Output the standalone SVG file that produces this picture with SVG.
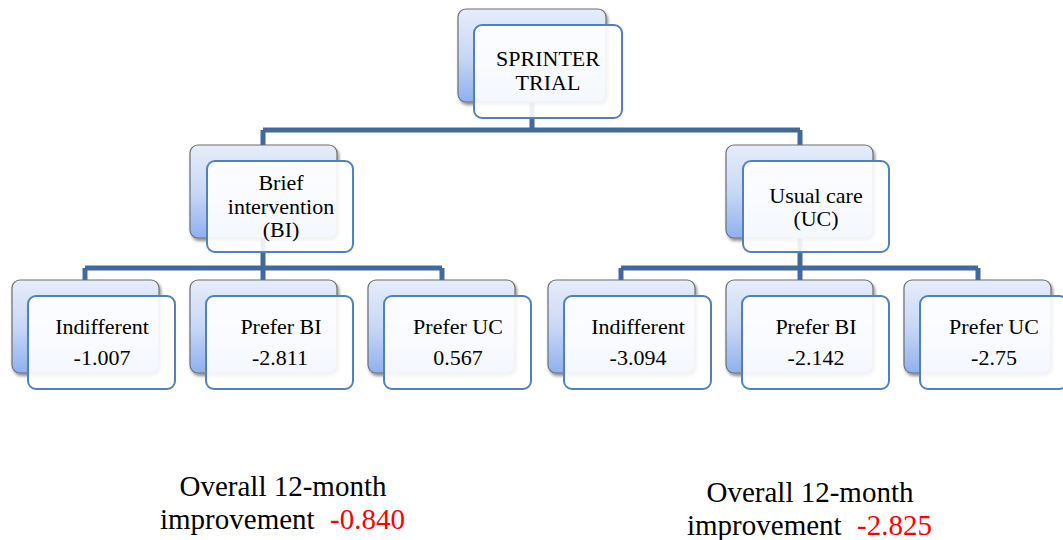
<svg xmlns="http://www.w3.org/2000/svg" width="1063" height="540" viewBox="0 0 1063 540">
<defs>
<linearGradient id="bg" x1="0" y1="0" x2="0" y2="1">
<stop offset="0" stop-color="#e6edfa"/>
<stop offset="0.5" stop-color="#c9d8f6"/>
<stop offset="1" stop-color="#8fb0ee"/>
</linearGradient>
<filter id="sh" x="-10%" y="-10%" width="130%" height="130%">
<feDropShadow dx="1.5" dy="2.5" stdDeviation="1.5" flood-color="#000" flood-opacity="0.45"/>
</filter>
</defs>
<style>
.back{fill:url(#bg);stroke:#6f6f6f;stroke-width:1.2;filter:url(#sh)}
.front{fill:#ffffff;fill-opacity:0.9;stroke:#4f81bd;stroke-width:2}
.t{font-family:'Liberation Serif','DejaVu Serif',serif;font-size:22px;fill:#000;text-anchor:middle}
.b{font-family:'Liberation Serif','DejaVu Serif',serif;font-size:29px;fill:#000}
.red{fill:#ff0000}
.c{stroke:#41699c;stroke-width:5;fill:none}
</style>
<rect width="1063" height="540" fill="#fff"/>
<g id="connectors">
<path class="c" d="M532 102V130M263 130H800M263 130V145M800 130V145"/>
<path class="c" d="M263 238V268M85 268H442M85 268V280M263 268V280M442 268V280"/>
<path class="c" d="M800 238V268M621 268H978M621 268V280M800 268V280M978 268V280"/>
</g>
<g id="root">
<rect class="back" x="458" y="9" width="148" height="93" rx="8"/>
<rect class="front" x="474" y="25" width="148" height="93" rx="8"/>
<text class="t" x="548" y="66">SPRINTER</text>
<text class="t" x="548" y="90">TRIAL</text>
</g>
<g id="bi">
<rect class="back" x="190" y="145" width="147" height="93" rx="8"/>
<rect class="front" x="207" y="161" width="146" height="91" rx="8"/>
<text class="t" x="281" y="190">Brief</text>
<text class="t" x="281" y="214">intervention</text>
<text class="t" x="281" y="237">(BI)</text>
</g>
<g id="uc">
<rect class="back" x="726" y="145" width="147" height="93" rx="8"/>
<rect class="front" x="743" y="161" width="146" height="91" rx="8"/>
<text class="t" x="816" y="203">Usual care</text>
<text class="t" x="816" y="226">(UC)</text>
</g>
<g id="bi-indifferent">
<rect class="back" x="12" y="280" width="147" height="93" rx="8"/>
<rect class="front" x="28" y="296" width="147" height="93" rx="8"/>
<text class="t" x="102" y="334">Indifferent</text>
<text class="t" x="102" y="365">-1.007</text>
</g>
<g id="bi-preferbi">
<rect class="back" x="190" y="280" width="147" height="93" rx="8"/>
<rect class="front" x="206" y="296" width="147" height="93" rx="8"/>
<text class="t" x="281" y="334">Prefer BI</text>
<text class="t" x="280" y="365">-2.811</text>
</g>
<g id="bi-preferuc">
<rect class="back" x="368" y="280" width="147" height="93" rx="8"/>
<rect class="front" x="384" y="296" width="147" height="93" rx="8"/>
<text class="t" x="458" y="334">Prefer UC</text>
<text class="t" x="458" y="365">0.567</text>
</g>
<g id="uc-indifferent">
<rect class="back" x="548" y="280" width="147" height="93" rx="8"/>
<rect class="front" x="564" y="296" width="147" height="93" rx="8"/>
<text class="t" x="638" y="334">Indifferent</text>
<text class="t" x="638" y="365">-3.094</text>
</g>
<g id="uc-preferbi">
<rect class="back" x="726" y="280" width="147" height="93" rx="8"/>
<rect class="front" x="742" y="296" width="147" height="93" rx="8"/>
<text class="t" x="816" y="334">Prefer BI</text>
<text class="t" x="816" y="365">-2.142</text>
</g>
<g id="uc-preferuc">
<rect class="back" x="904" y="280" width="147" height="93" rx="8"/>
<rect class="front" x="920" y="296" width="147" height="93" rx="8"/>
<text class="t" x="994" y="334">Prefer UC</text>
<text class="t" x="994" y="365">-2.75</text>
</g>
<g id="summary-bi">
<text class="b" x="283" y="496" text-anchor="middle">Overall 12-month</text>
<text class="b" x="160" y="529">improvement <tspan class="red" x="330">-0.840</tspan></text>
</g>
<g id="summary-uc">
<text class="b" x="810" y="502" text-anchor="middle">Overall 12-month</text>
<text class="b" x="687" y="535">improvement <tspan class="red" x="857">-2.825</tspan></text>
</g>
</svg>
